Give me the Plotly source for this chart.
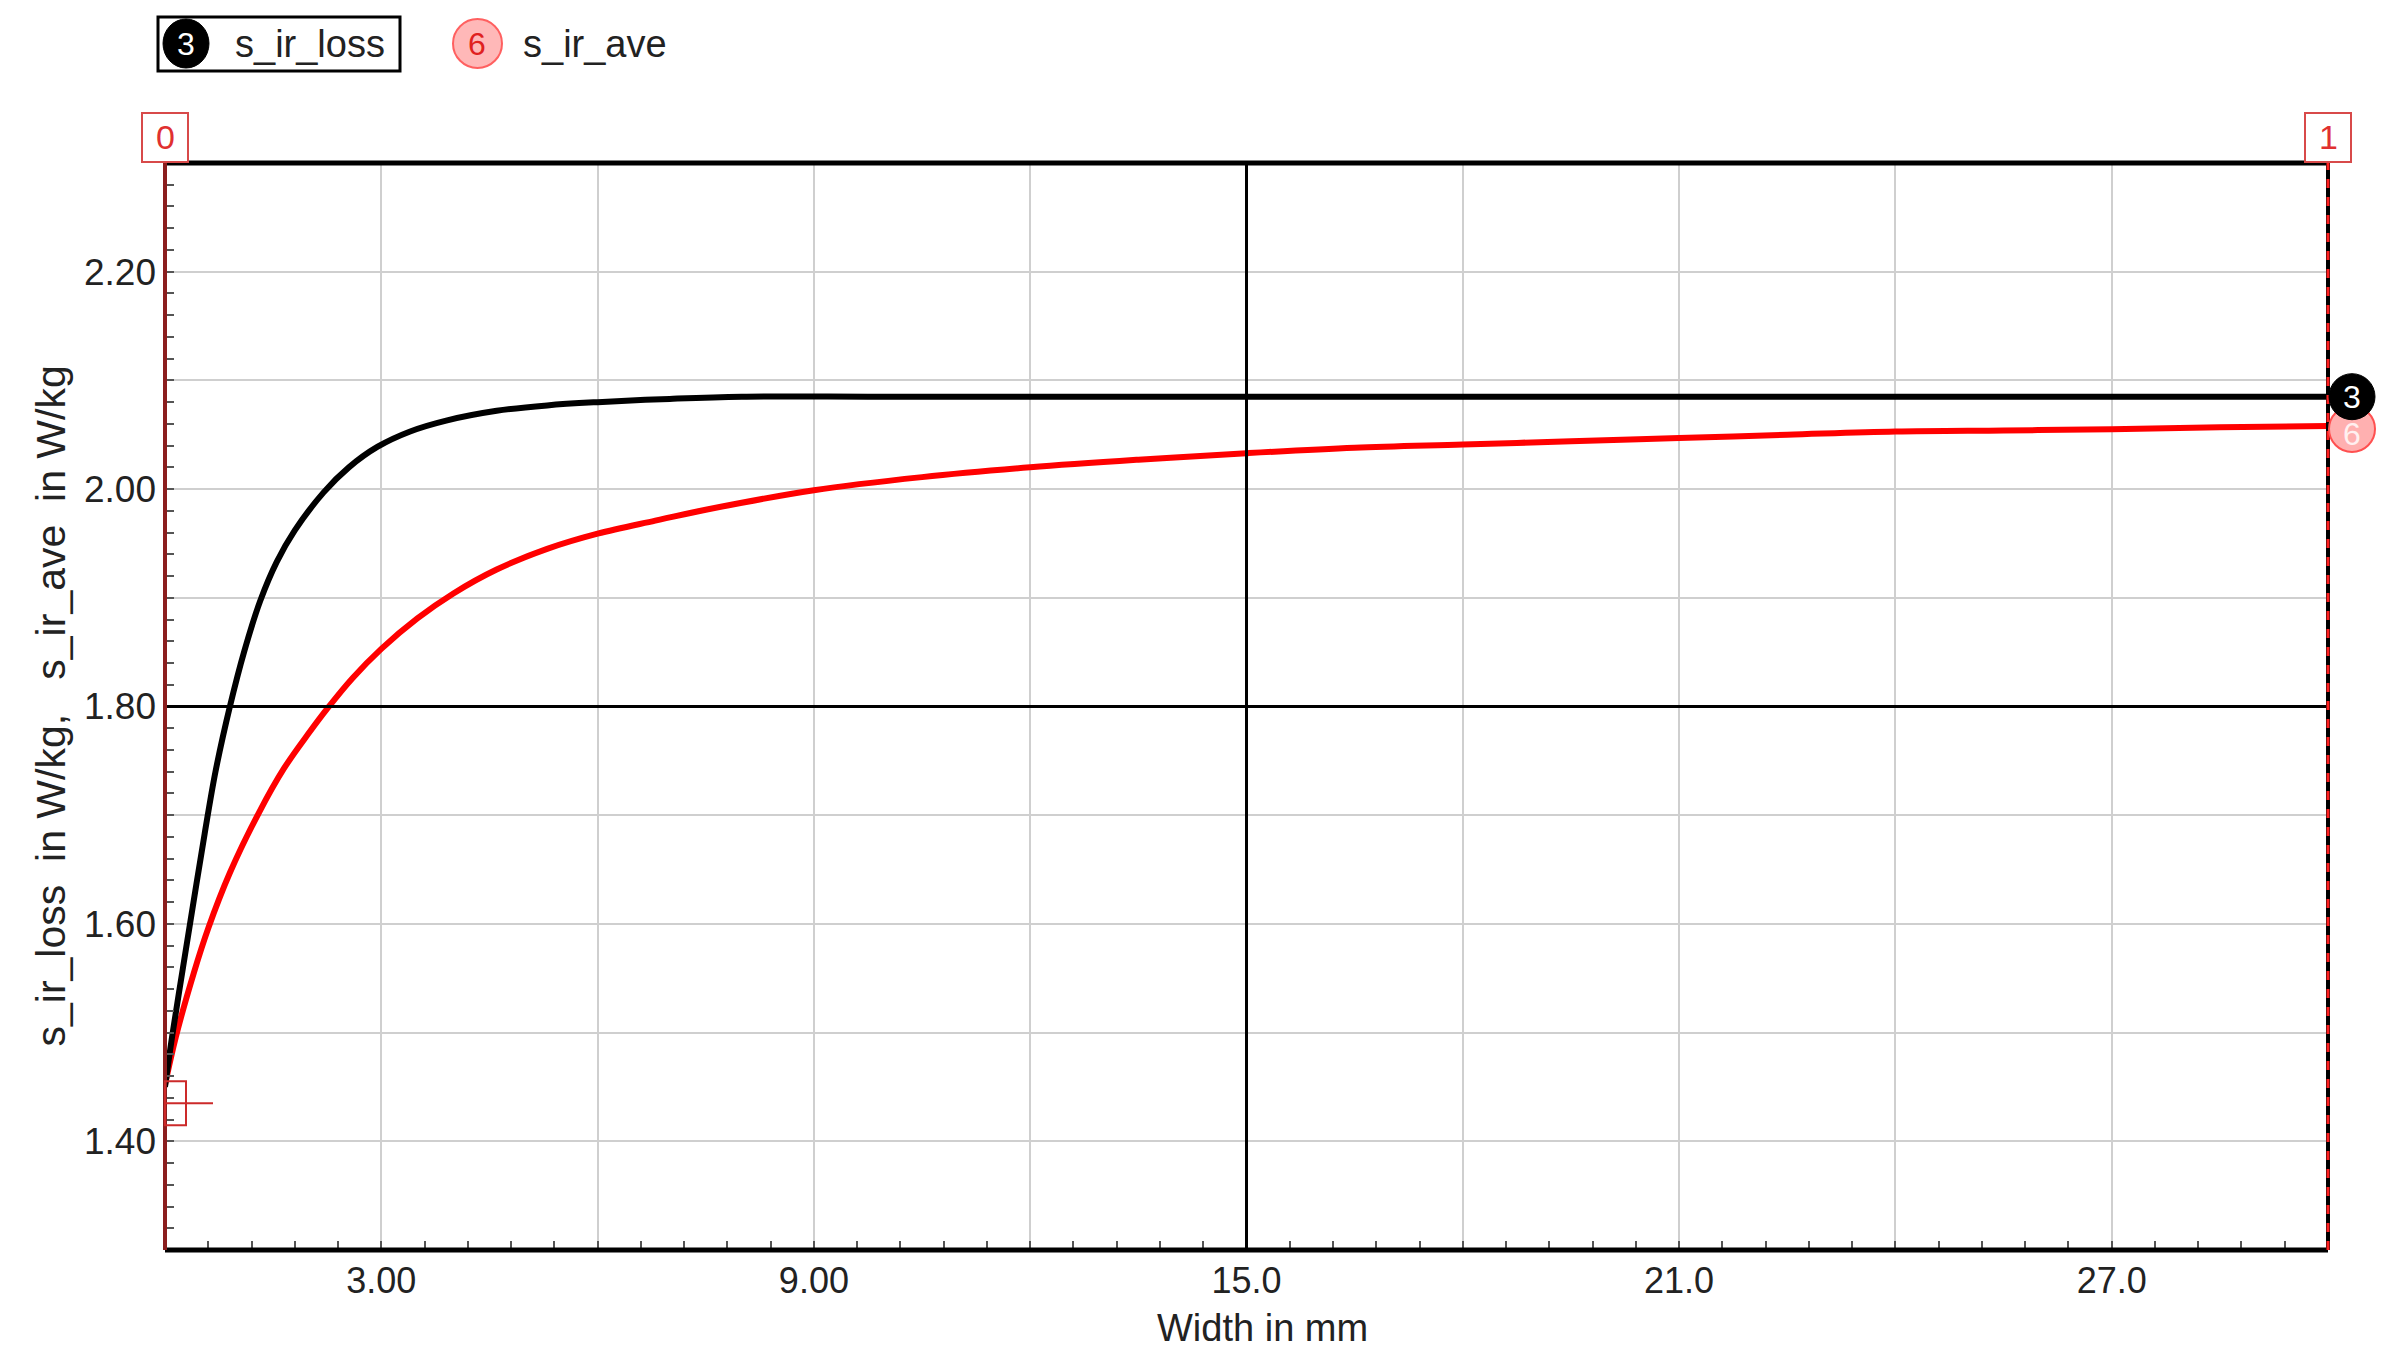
import plotly.graph_objects as go

# curve data (Width in mm, W/kg)
width_loss = [0, 0.1, 0.25, 0.4, 0.55, 0.7, 0.9, 1.1, 1.32, 1.55, 1.8, 2.2, 2.55, 2.95, 3.4, 3.9, 4.6,
              5.3, 6.0, 7.0, 8.0, 10.0, 15.0, 20.0, 25.0, 30.0]
s_ir_loss = [1.450, 1.497, 1.560, 1.622, 1.683, 1.740, 1.800, 1.851, 1.897, 1.933, 1.962, 1.997, 2.020,
             2.039, 2.053, 2.063, 2.072, 2.077, 2.080, 2.083, 2.085, 2.085, 2.085, 2.085, 2.085, 2.085]

width_ave = [0, 0.15, 0.4, 0.6, 0.9, 1.3, 1.65, 2.0, 2.25, 2.6, 3.0, 3.5, 4.0, 4.6, 5.3, 6.0, 6.8, 7.5,
             9.0, 10.5, 12.0, 13.5, 15.0, 16.5, 18.0, 19.5, 21.0, 22.5, 24.0, 25.5, 27.0, 28.5, 30.0]
s_ir_ave = [1.452, 1.496, 1.555, 1.596, 1.647, 1.702, 1.743, 1.776, 1.798, 1.826, 1.853, 1.881, 1.904,
            1.926, 1.945, 1.959, 1.971, 1.981, 1.999, 2.011, 2.020, 2.027, 2.033, 2.038, 2.041, 2.044,
            2.047, 2.050, 2.053, 2.054, 2.055, 2.057, 2.058]

# axes
x_ticks = [0, 3, 6, 9, 12, 15, 18, 21, 24, 27, 30]
x_ticktext = ["", "3.00", "", "9.00", "", "15.0", "", "21.0", "", "27.0", ""]
y_ticks = [1.3, 1.4, 1.5, 1.6, 1.7, 1.8, 1.9, 2.0, 2.1, 2.2, 2.3]
y_ticktext = ["", "1.40", "", "1.60", "", "1.80", "", "2.00", "", "2.20", ""]

# cursors
cursor_x = 15.0
cursor_y = 1.80
cross_y = 1.435

# page has an 8px body margin, so the figure is a bit smaller than the window
OFF = 8
W, H = 2373, 1350
L, R, T, B = 157, 53, 155, 108
FONT = "Liberation Sans, Arial, sans-serif"
TXT = "#222222"


def px(xp):
    # window pixel -> paper x
    return (xp - OFF - L) / (W - L - R)


def py(yp):
    # window pixel -> paper y
    return (OFF + H - B - yp) / (H - T - B)


fig = go.Figure()
fig.add_trace(go.Scatter(x=width_ave, y=s_ir_ave, mode="lines", name="s_ir_ave",
                         line=dict(color="#ff0000", width=6, shape="spline", smoothing=1.0)))
fig.add_trace(go.Scatter(x=width_loss, y=s_ir_loss, mode="lines", name="s_ir_loss",
                         line=dict(color="#000000", width=6, shape="spline", smoothing=1.0)))

shapes = []
ann = []

# cursor lines
shapes.append(dict(type="line", xref="paper", yref="y", x0=0, x1=1, y0=cursor_y, y1=cursor_y,
                   line=dict(color="black", width=3)))
shapes.append(dict(type="line", xref="x", yref="paper", x0=cursor_x, x1=cursor_x, y0=0, y1=1,
                   line=dict(color="black", width=3)))

# frame
shapes.append(dict(type="line", xref="paper", yref="paper", x0=0, x1=1, y0=1, y1=1,
                   line=dict(color="black", width=5)))
shapes.append(dict(type="line", xref="paper", yref="paper", x0=0, x1=1, y0=0, y1=0,
                   line=dict(color="black", width=5)))
shapes.append(dict(type="line", xref="paper", yref="paper", x0=0, x1=0, y0=0, y1=1,
                   line=dict(color="#8b1e1e", width=4)))
shapes.append(dict(type="line", xref="paper", yref="paper", x0=1, x1=1, y0=0, y1=1,
                   line=dict(color="black", width=4)))
shapes.append(dict(type="line", xref="paper", yref="paper", x0=1, x1=1, y0=0, y1=1,
                   line=dict(color="#ff2020", width=3, dash="dash")))

# marker boxes 0 / 1 sitting on the plot's left and right edges
for mx, lab in [(0, "0"), (1, "1")]:
    shapes.append(dict(type="rect", xref="paper", yref="paper", xsizemode="pixel", ysizemode="pixel",
                       xanchor=mx, yanchor=1, x0=-23, x1=23, y0=1, y1=50,
                       line=dict(color="#d84a4a", width=2), fillcolor="white"))
    ann.append(dict(x=mx, y=1, xref="paper", yref="paper", yshift=26, text=lab, showarrow=False,
                    xanchor="center", yanchor="middle",
                    font=dict(family=FONT, size=34, color="#e03030")))

# small crosshair at cursor 0
shapes.append(dict(type="rect", xref="paper", yref="y", xsizemode="pixel", ysizemode="pixel",
                   xanchor=0, yanchor=cross_y, x0=0, x1=21, y0=-22, y1=22,
                   line=dict(color="#cc2a2a", width=2)))
shapes.append(dict(type="line", xref="paper", yref="y", xsizemode="pixel",
                   xanchor=0, x0=0, x1=48, y0=cross_y, y1=cross_y,
                   line=dict(color="#cc2a2a", width=2)))

# end-of-curve badges
shapes.append(dict(type="circle", xref="paper", yref="y", xsizemode="pixel", ysizemode="pixel",
                   xanchor=1, yanchor=s_ir_ave[-1], x0=1, x1=47, y0=-26, y1=20,
                   line=dict(color="#ff5050", width=2), fillcolor="#ffb0b0"))
shapes.append(dict(type="circle", xref="paper", yref="y", xsizemode="pixel", ysizemode="pixel",
                   xanchor=1, yanchor=s_ir_loss[-1], x0=1, x1=47, y0=-23, y1=23,
                   line=dict(color="black", width=1), fillcolor="black"))
ann.append(dict(x=1, y=s_ir_ave[-1], xref="paper", yref="y", xshift=24, yshift=-8,
                xanchor="center", yanchor="middle",
                text="6", showarrow=False, font=dict(family=FONT, size=32, color="#fff0f0")))
ann.append(dict(x=1, y=s_ir_loss[-1], xref="paper", yref="y", xshift=24,
                xanchor="center", yanchor="middle",
                text="3", showarrow=False, font=dict(family=FONT, size=32, color="white")))

# legend drawn by hand (numbered badges)
shapes.append(dict(type="rect", xref="paper", yref="paper", x0=px(158), x1=px(400), y0=py(71), y1=py(17),
                   line=dict(color="black", width=3)))
shapes.append(dict(type="circle", xref="paper", yref="paper", x0=px(163), x1=px(209), y0=py(68), y1=py(19),
                   line=dict(color="black", width=1), fillcolor="black"))
ann.append(dict(x=px(186), y=py(44), xref="paper", yref="paper", text="3", showarrow=False,
                xanchor="center", yanchor="middle",
                font=dict(family=FONT, size=32, color="white")))
ann.append(dict(x=px(233), y=py(44), xref="paper", yref="paper", text="s_ir_loss", showarrow=False,
                xanchor="left", yanchor="middle", font=dict(family=FONT, size=38, color=TXT)))
shapes.append(dict(type="circle", xref="paper", yref="paper", x0=px(453), x1=px(502), y0=py(68), y1=py(19),
                   line=dict(color="#ff6060", width=2), fillcolor="#ffb8b8"))
ann.append(dict(x=px(477), y=py(44), xref="paper", yref="paper", text="6", showarrow=False,
                xanchor="center", yanchor="middle",
                font=dict(family=FONT, size=32, color="#e02020")))
ann.append(dict(x=px(521), y=py(44), xref="paper", yref="paper", text="s_ir_ave", showarrow=False,
                xanchor="left", yanchor="middle", font=dict(family=FONT, size=38, color=TXT)))

# axis titles
ann.append(dict(x=px(50), y=0.5, xref="paper", yref="paper", textangle=-90, showarrow=False,
                xanchor="center", yanchor="middle",
                text="s_ir_loss\u00a0\u00a0in W/kg,\u00a0\u00a0\u00a0s_ir_ave\u00a0\u00a0in W/kg",
                font=dict(family=FONT, size=41, color=TXT)))
ann.append(dict(x=px(1262), y=py(1328), xref="paper", yref="paper", showarrow=False,
                xanchor="center", yanchor="middle",
                text="Width in mm", font=dict(family=FONT, size=38, color=TXT)))

fig.update_layout(
    width=W, height=H,
    margin=dict(l=L, r=R, t=T, b=B),
    paper_bgcolor="white", plot_bgcolor="white",
    showlegend=False,
    shapes=shapes, annotations=ann,
    font=dict(family=FONT, size=36, color=TXT),
)
fig.update_xaxes(
    range=[0, 30], tickmode="array", tickvals=x_ticks, ticktext=x_ticktext,
    showgrid=True, gridcolor="#cfcfcf", gridwidth=2, zeroline=False, showline=False,
    ticks="inside", ticklen=9, tickwidth=2, tickcolor="#555555", ticklabelstandoff=6,
    tickfont=dict(family=FONT, size=36, color=TXT),
    minor=dict(dtick=0.6, tick0=0, ticks="inside", ticklen=9, tickwidth=2, tickcolor="#555555", showgrid=False),
)
fig.update_yaxes(
    range=[1.3, 2.3], tickmode="array", tickvals=y_ticks, ticktext=y_ticktext,
    showgrid=True, gridcolor="#cfcfcf", gridwidth=2, zeroline=False, showline=False,
    ticks="inside", ticklen=9, tickwidth=2, tickcolor="#555555", ticklabelstandoff=8,
    tickfont=dict(family=FONT, size=37, color=TXT),
    minor=dict(dtick=0.02, tick0=1.3, ticks="inside", ticklen=9, tickwidth=2, tickcolor="#555555", showgrid=False),
)

fig.write_html("out.html")
